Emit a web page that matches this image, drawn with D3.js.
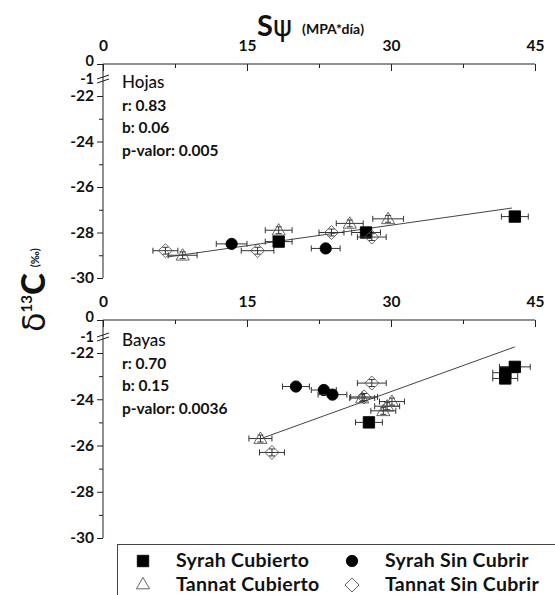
<!DOCTYPE html>
<html>
<head>
<meta charset="utf-8">
<script src="https://cdn.jsdelivr.net/npm/d3@7"></script>
<style>
  html, body { margin: 0; padding: 0; background: #fff; }
  svg text { font-family: Lato, "Noto Sans", sans-serif; fill: #111; }
</style>
</head>
<body>
<svg id="chart" width="555" height="595"></svg>
<script>
// Leaf (Hojas) measurements: x = Sψ (MPa*día), y = δ13C (‰), xe/ye = error
const hojasSyrahCubierto = [
  {x: 18.3, y: -28.4, xe: 1.4, ye: 0.1},
  {x: 27.4, y: -28.0, xe: 1.5, ye: 0.1},
  {x: 42.9, y: -27.3, xe: 1.4, ye: 0.1}
];
const hojasSyrahSinCubrir = [
  {x: 13.4, y: -28.5, xe: 1.6, ye: 0.1},
  {x: 23.2, y: -28.7, xe: 1.5, ye: 0.1}
];
const hojasTannatCubierto = [
  {x: 8.3, y: -29.0, xe: 1.5, ye: 0.15},
  {x: 18.3, y: -27.9, xe: 1.4, ye: 0.15},
  {x: 25.7, y: -27.6, xe: 1.4, ye: 0.15},
  {x: 29.7, y: -27.4, xe: 1.6, ye: 0.15}
];
const hojasTannatSinCubrir = [
  {x: 6.5, y: -28.8, xe: 1.3, ye: 0.15},
  {x: 16.1, y: -28.8, xe: 1.7, ye: 0.15},
  {x: 23.8, y: -28.0, xe: 1.3, ye: 0.15},
  {x: 28.0, y: -28.2, xe: 1.5, ye: 0.15}
];

// Berry (Bayas) measurements
const bayasSyrahCubierto = [
  {x: 27.7, y: -25.0, xe: 1.4, ye: 0.1},
  {x: 41.9, y: -23.1, xe: 1.3, ye: 0.1},
  {x: 41.9, y: -22.85, xe: 1.3, ye: 0.1},
  {x: 42.9, y: -22.6, xe: 1.6, ye: 0.1}
];
const bayasSyrahSinCubrir = [
  {x: 20.1, y: -23.45, xe: 1.4, ye: 0.1},
  {x: 23.0, y: -23.6, xe: 1.3, ye: 0.1},
  {x: 23.9, y: -23.8, xe: 1.5, ye: 0.1}
];
const bayasTannatCubierto = [
  {x: 16.4, y: -25.7, xe: 1.2, ye: 0.15},
  {x: 27.0, y: -23.95, xe: 1.3, ye: 0.15},
  {x: 30.1, y: -24.1, xe: 1.3, ye: 0.15},
  {x: 29.6, y: -24.3, xe: 1.3, ye: 0.15},
  {x: 29.2, y: -24.5, xe: 1.3, ye: 0.15}
];
const bayasTannatSinCubrir = [
  {x: 17.6, y: -26.3, xe: 1.3, ye: 0.15},
  {x: 27.2, y: -23.9, xe: 1.4, ye: 0.15},
  {x: 28.0, y: -23.3, xe: 1.5, ye: 0.15}
];

// Regression statistics
const hojasStats = ["Hojas", "r: 0.83", "b: 0.06", "p-valor: 0.005"];
const bayasStats = ["Bayas", "r: 0.70", "b: 0.15", "p-valor: 0.0036"];
const hojasFit = {slope: 0.06, intercept: -29.48, from: 6.7, to: 42.6};
const bayasFit = {slope: 0.15, intercept: -28.17, from: 16.6, to: 42.9};

// Axis ticks
const xMajor = [0, 15, 30, 45];
const xMinor = [7.5, 22.5, 37.5];
const yMajor = [-22, -24, -26, -28, -30];
const yMinor = [-23, -25, -27, -29];
const yBreakTicks = [0, -1];

const seriesNames = ["Syrah Cubierto", "Syrah Sin Cubrir", "Tannat Cubierto", "Tannat Sin Cubrir"];
const seriesShapes = ["square", "circle", "triangle", "diamond"];

const svg = d3.select("#chart");
const ink = "#222";
const plain = d => String(d);

const x = d3.scaleLinear().domain([0, 45]).range([103, 535]);

function markerPath(shape) {
  if (shape === "diamond") return "M0,-7L7,0L0,7L-7,0Z";
  const sym = {
    square: d3.symbol(d3.symbolSquare, 130),
    circle: d3.symbol(d3.symbolCircle, 100),
    triangle: d3.symbol(d3.symbolTriangle, 75)
  }[shape];
  return sym();
}

function drawPanel(cfg) {
  const g = svg.append("g");
  const y = d3.scaleLinear().domain([-22, -30]).range([cfg.y22, cfg.y30]);
  const yb = d3.scaleLinear().domain([0, -1]).range([cfg.axisY, cfg.yMinus1]);

  // top x axis
  g.append("g").attr("transform", `translate(0,${cfg.axisY})`)
    .call(d3.axisBottom(x).tickValues(xMajor).tickSize(7).tickFormat(""))
    .call(a => a.select(".domain").attr("d", `M${x(0)},0H${x(45)}`));
  g.append("g").attr("transform", `translate(0,${cfg.axisY})`)
    .call(d3.axisBottom(x).tickValues(xMinor).tickSize(4).tickFormat(""))
    .call(a => a.select(".domain").remove());
  g.append("g").attr("transform", `translate(0,${cfg.axisY - 10})`)
    .call(d3.axisTop(x).tickValues(xMajor).tickSize(0).tickFormat(plain))
    .call(a => a.select(".domain").remove())
    .call(a => a.selectAll("text").attr("font-size", 15.5).attr("font-weight", 700));

  // left y axis (broken)
  const left = x(0);
  g.append("line").attr("x1", left).attr("x2", left)
    .attr("y1", cfg.axisY).attr("y2", y(-30)).attr("stroke", ink);
  g.append("g").attr("transform", `translate(${left},0)`)
    .call(d3.axisLeft(y).tickValues(yMajor).tickSize(6).tickPadding(3).tickFormat(plain))
    .call(a => a.select(".domain").remove())
    .call(a => a.selectAll("text").attr("font-size", 15.5).attr("font-weight", 700));
  g.append("g").attr("transform", `translate(${left},0)`)
    .call(d3.axisLeft(y).tickValues(yMinor).tickSize(4).tickFormat(""))
    .call(a => a.select(".domain").remove());
  g.append("g").attr("transform", `translate(${left},0)`)
    .call(d3.axisLeft(yb).tickValues(yBreakTicks).tickSize(6).tickPadding(3).tickFormat(plain))
    .call(a => a.select(".domain").remove())
    .call(a => a.selectAll(".tick").filter(d => d === -1).select("line").remove())
    .call(a => a.selectAll(".tick").filter(d => d === 0).select("text").attr("dy", "0.12em"))
    .call(a => a.selectAll("text").attr("font-size", 14.5).attr("font-weight", 700));
  // break marks
  const bk = cfg.yMinus1;
  [-2, 2].forEach(off => {
    g.append("line").attr("x1", left - 6).attr("x2", left + 6)
      .attr("y1", bk + off + 2).attr("y2", bk + off - 2)
      .attr("stroke", ink).attr("stroke-width", 1);
  });
  g.selectAll(".tick line").attr("stroke", ink);
  g.selectAll(".domain").attr("stroke", ink);

  // regression line
  g.append("line")
    .attr("x1", x(cfg.fit.from)).attr("y1", y(cfg.fit.intercept + cfg.fit.slope * cfg.fit.from))
    .attr("x2", x(cfg.fit.to)).attr("y2", y(cfg.fit.intercept + cfg.fit.slope * cfg.fit.to))
    .attr("stroke", "#444").attr("stroke-width", 1);

  // points with error bars
  cfg.series.forEach((data, i) => {
    const shape = seriesShapes[i];
    const filled = i < 2;
    const pg = g.append("g");
    data.forEach(d => {
      const px = x(d.x), py = y(d.y);
      const x0 = x(d.x - d.xe), x1 = x(d.x + d.xe);
      const y0 = y(d.y - d.ye), y1 = y(d.y + d.ye);
      const eb = pg.append("g").attr("stroke", "#333").attr("stroke-width", 1);
      eb.append("line").attr("x1", x0).attr("x2", x1).attr("y1", py).attr("y2", py);
      eb.append("line").attr("x1", x0).attr("x2", x0).attr("y1", py - 3).attr("y2", py + 3);
      eb.append("line").attr("x1", x1).attr("x2", x1).attr("y1", py - 3).attr("y2", py + 3);
      eb.append("line").attr("x1", px).attr("x2", px).attr("y1", y0).attr("y2", y1);
      eb.append("line").attr("x1", px - 3).attr("x2", px + 3).attr("y1", y0).attr("y2", y0);
      eb.append("line").attr("x1", px - 3).attr("x2", px + 3).attr("y1", y1).attr("y2", y1);
      pg.append("path").attr("d", markerPath(shape))
        .attr("transform", `translate(${px},${py + (shape === "triangle" ? 1 : 0)})`)
        .attr("fill", filled ? "#000" : "none")
        .attr("stroke", filled ? "#000" : "#555")
        .attr("stroke-width", 0.9);
    });
  });

  // statistics text
  g.append("g").selectAll("text").data(cfg.stats).join("text")
    .attr("x", 122).attr("y", (d, i) => cfg.textY + i * 22.5)
    .attr("font-size", (d, i) => i === 0 ? 17 : 15.5)
    .attr("font-weight", (d, i) => i === 0 ? 500 : 700)
    .text(d => d);
}

drawPanel({
  axisY: 64, yMinus1: 79, y22: 96, y30: 278,
  fit: hojasFit, stats: hojasStats, textY: 88,
  series: [hojasSyrahCubierto, hojasSyrahSinCubrir, hojasTannatCubierto, hojasTannatSinCubrir]
});
drawPanel({
  axisY: 320, yMinus1: 337, y22: 353, y30: 538,
  fit: bayasFit, stats: bayasStats, textY: 346,
  series: [bayasSyrahCubierto, bayasSyrahSinCubrir, bayasTannatCubierto, bayasTannatSinCubrir]
});

// top x-axis title
const title = svg.append("text").attr("x", 257).attr("y", 36);
title.append("tspan").attr("font-size", 29).attr("font-weight", 700).text("S");
title.append("tspan").attr("font-size", 29).attr("font-family", "DejaVu Sans").text("ψ");
title.append("tspan").attr("font-size", 14).attr("font-weight", 700).attr("dx", 10).attr("dy", -2).text("(MPA*día)");

// y-axis title
const yt = svg.append("text").attr("transform", "translate(45,332) rotate(-90)");
yt.append("tspan").attr("font-size", 32).attr("font-family", "DejaVu Sans").text("δ");
yt.append("tspan").attr("font-size", 15).attr("font-weight", 700).attr("dy", -13).text("13");
yt.append("tspan").attr("font-size", 33).attr("font-weight", 900).attr("dy", 13).text("C");
yt.append("tspan").attr("font-size", 11).attr("font-weight", 700).attr("dx", 6).attr("dy", -6).text("(‰)");

// legend
const lg = svg.append("g");
lg.append("rect").attr("x", 117.5).attr("y", 544.5).attr("width", 460).attr("height", 80)
  .attr("fill", "#fff").attr("stroke", "#444");
const legendPos = [[143, 567], [352, 567], [143, 591], [352, 591]];
seriesNames.forEach((name, i) => {
  const [lx, ly] = legendPos[i];
  const filled = i < 2;
  lg.append("path").attr("d", markerPath(seriesShapes[i]))
    .attr("transform", `translate(${lx},${ly - 6})`)
    .attr("fill", filled ? "#000" : "none")
    .attr("stroke", filled ? "#000" : "#555").attr("stroke-width", 0.9);
  lg.append("text").attr("x", lx + 33).attr("y", ly)
    .attr("font-size", 19.5).attr("font-weight", 700).attr("letter-spacing", 0.3).text(name);
});
</script>
</body>
</html>
